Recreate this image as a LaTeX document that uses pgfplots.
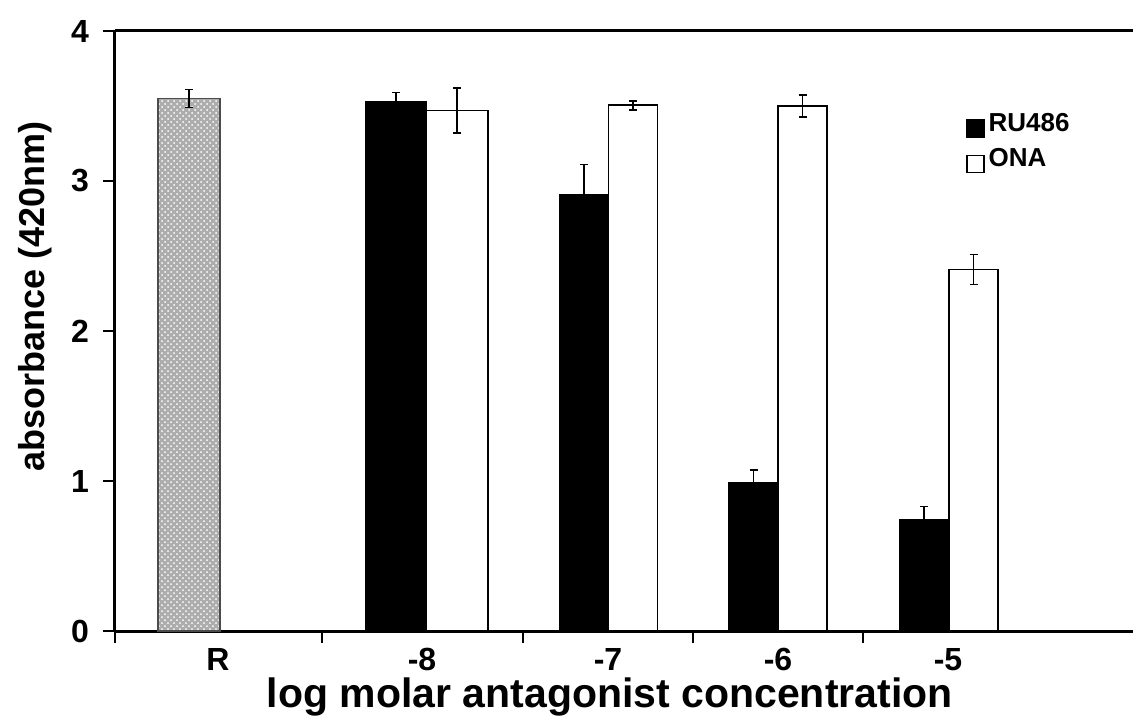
\documentclass[border=0pt]{standalone}
\usepackage{fontspec}
\setmainfont{Liberation Sans}
\usepackage{pgfplots}
\pgfplotsset{compat=1.18}
\usetikzlibrary{patterns}
\begin{document}
\begin{tikzpicture}
\useasboundingbox (-57.5pt,-44pt) rectangle (509pt,315.5pt);
\begin{axis}[
  scale only axis, width=509pt, height=300pt,
  xmin=115, xmax=1133, ymin=0, ymax=4,
  axis x line=box, axis y line=left,
  axis line style={-, line width=1.5pt},
  tick align=outside,
  xtick pos=left, ytick pos=left,
  major tick length=6pt,
  tick style={line width=1.3pt, black},
  xtick={115,322,523,693,863}, xticklabels={},
  extra x ticks={218,422,608,778,948},
  extra x tick labels={R,-8,-7,-6,-5},
  extra x tick style={major tick length=0pt},
  ytick={0,1,2,3,4},
  /pgf/number format/assume math mode=true,
  tick label style={font=\bfseries\fontsize{16}{18}\selectfont},
  xticklabel style={anchor=base, yshift=-19.5pt, inner sep=0pt},
  yticklabel style={xshift=-3.5pt},
  xlabel={log molar antagonist concentration},
  ylabel={absorbance (420nm)},
  xlabel style={font=\bfseries\fontsize{20.5}{24}\selectfont, inner sep=0pt, at={(axis description cs:0.486,-0.1275)}, anchor=base},
  ylabel style={font=\bfseries\fontsize{18}{20}\selectfont, at={(axis description cs:-0.0786,0.557)}, anchor=center},
  legend style={draw=none, fill=none, at={(axis cs:966,3.48)}, anchor=north west,
    font=\bfseries\fontsize{13}{15}\selectfont, row sep=3pt, inner sep=0pt},
  legend cell align=left,
  legend image code/.code={\draw[#1, line width=0.6pt] (0pt,-6.5pt) rectangle (8.5pt,2pt);},
  error bars/y dir=both, error bars/y explicit,
  error bars/error bar style={line width=0.9pt, black},
  error bars/error mark options={rotate=90, mark size=2pt, line width=0.9pt, black},
]
% RU486, log -7, -6, -5
\addplot[ybar, bar width=49, bar shift=0pt, draw=black, fill=black, line width=0.6pt]
  coordinates {(584,2.91) +- (0,0.20) (753.5,0.99) +- (0,0.085) (924,0.745) +- (0,0.085)};
\addlegendentry{RU486}
% ONA, log -7, -6, -5
\addplot[ybar, bar width=49, bar shift=0pt, draw=black, fill=white, line width=0.8pt]
  coordinates {(633,3.505) +- (0,0.03) (802.5,3.50) +- (0,0.075) (973.5,2.41) +- (0,0.10)};
\addlegendentry{ONA}
% log -8
\addplot[ybar, bar width=60, bar shift=0pt, draw=black, fill=black, line width=0.6pt, forget plot]
  coordinates {(396,3.53) +- (0,0.06)};
\addplot[ybar, bar width=62, bar shift=0pt, draw=black, fill=white, line width=0.8pt, forget plot]
  coordinates {(457,3.47) +- (0,0.15)};
% reference R
\addplot[ybar, bar width=62, bar shift=0pt, draw=black!70, fill=black!32, line width=0.8pt,
  postaction={pattern=crosshatch dots, pattern color=white}, forget plot]
  coordinates {(189,3.55) +- (0,0.06)};
\end{axis}
\end{tikzpicture}
\end{document}
